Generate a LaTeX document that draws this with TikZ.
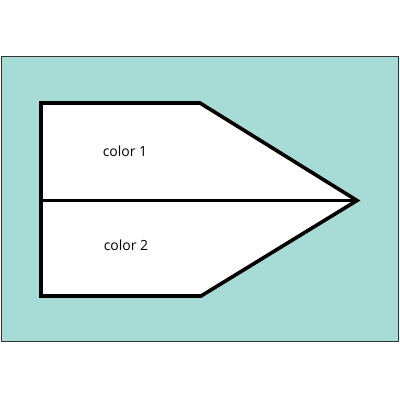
\documentclass[tikz,border=0pt]{standalone}
\usepackage{fontspec}
\setmainfont{Open Sans}
\definecolor{verdeagua}{HTML}{A7DBD5}

\begin{document}
\begin{tikzpicture}[x=1pt, y=-1pt]

    \useasboundingbox (0,0) rectangle (400,400);

    \draw[fill = verdeagua, draw = black!80, line width=1pt] (1.5,56.5) rectangle (398,341.5); %fondo

    \draw[fill = white, line width=3.6pt] (41,103) -- (200,103) -- (357,200.5)
        -- (201,296) -- (41,296) -- cycle; %flecha
    \draw[line width=3.4pt] (41,200.5) -- (357,200.5); %linea del medio


    \node[font=\fontsize{14}{16}\selectfont] (color1) at (125,151) {color 1};
    \node[font=\fontsize{14}{16}\selectfont] (color2) at (126,245) {color 2};

\end{tikzpicture}
\end{document}
